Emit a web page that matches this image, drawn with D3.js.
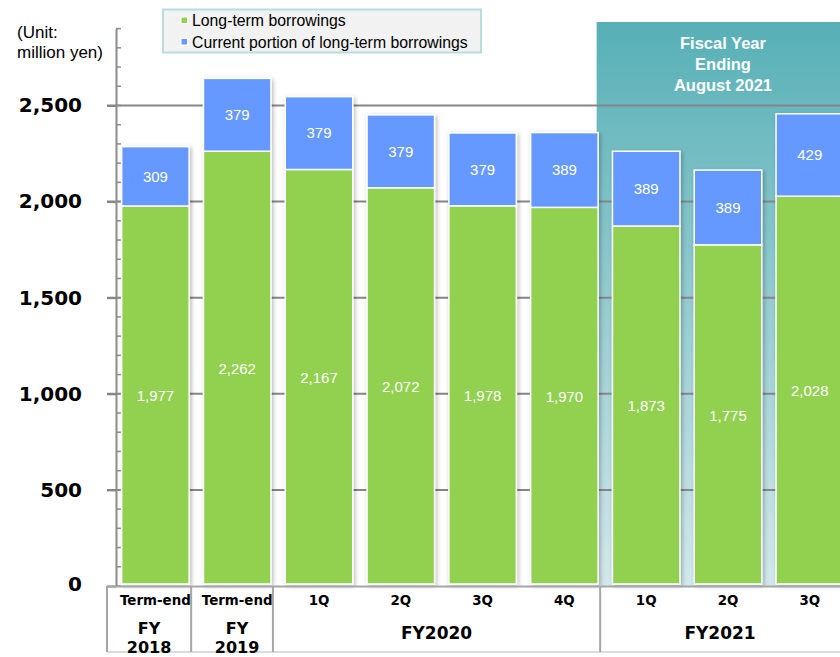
<!DOCTYPE html>
<html><head><meta charset="utf-8">
<script src="https://cdn.jsdelivr.net/npm/d3@7"></script>
<style>
html,body{margin:0;padding:0;background:#fff;overflow:hidden}
svg{display:block}
</style></head><body>
<svg id="c" width="840" height="657"></svg>
<script>
// ---- data ----
const periodLabels = ["Term-end","Term-end","1Q","2Q","3Q","4Q","1Q","2Q","3Q"];
const longTerm = [1977, 2262, 2167, 2072, 1978, 1970, 1873, 1775, 2028];
const currentPortion = [309, 379, 379, 379, 379, 389, 389, 389, 429];
const groupLabels = [["FY","2018"],["FY","2019"],["FY2020"],["FY2021"]];
const groupStart = [0, 1, 2, 6];
const groupEnd = [0, 1, 5, 8];
const yTicks = [0, 500, 1000, 1500, 2000, 2500];
const seriesNames = ["Long-term borrowings", "Current portion of long-term borrowings"];
const highlightLines = ["Fiscal Year", "Ending", "August 2021"];
const highlightFrom = 6;

const GREEN = "#92d050", BLUE = "#6699ff";
const svg = d3.select("#c");
const idx = d3.range(periodLabels.length);

const y = d3.scaleLinear().domain([0, 2900]).range([586, 28.6]);
const x = d3.scaleBand().domain(idx).range([114.5, 850.7]).paddingInner(0.175).paddingOuter(0.0875);
const bw = x.bandwidth();
const axisX = 116, leftX = 107, rightX = 840;

const defs = svg.append("defs");
const grad = defs.append("linearGradient").attr("id","teal").attr("x1",0).attr("y1",0).attr("x2",0).attr("y2",1);
grad.append("stop").attr("offset","0%").attr("stop-color","#56b0b6");
grad.append("stop").attr("offset","45%").attr("stop-color","#8fc9ce");
grad.append("stop").attr("offset","100%").attr("stop-color","#d3e8ec");
const f = defs.append("filter").attr("id","sh").attr("x","-20%").attr("y","-20%").attr("width","140%").attr("height","140%");
f.append("feDropShadow").attr("dx",1.5).attr("dy",1.5).attr("stdDeviation",2.2).attr("flood-color","#000").attr("flood-opacity",0.28);

// highlight region (starts right after the last bar before the highlighted fiscal year)
const hx = x(highlightFrom - 1) + bw - 1.5;
svg.append("rect").attr("x", hx).attr("y", 22).attr("width", rightX - hx).attr("height", y(0) - 22).attr("fill","url(#teal)");

// gridlines
svg.append("g").selectAll("line").data(yTicks.filter(d => d > 0)).join("line")
  .attr("x1", leftX).attr("x2", rightX).attr("y1", d => y(d)).attr("y2", d => y(d))
  .attr("stroke","#868686").attr("stroke-width",2);

// y axis
const yAxis = svg.append("g").attr("transform", `translate(${axisX},0)`)
  .call(d3.axisLeft(y).tickValues(yTicks).tickSize(9).tickSizeOuter(0).tickPadding(25).tickFormat(d3.format(",")));
yAxis.select(".domain").attr("stroke","#8c8c8c").attr("stroke-width",2);
yAxis.selectAll(".tick line").attr("stroke","#868686").attr("stroke-width",2);
yAxis.selectAll(".tick text").attr("font-family","DejaVu Sans").attr("font-weight","bold").attr("font-size",20).attr("fill","#000");
yAxis.selectAll(".tick").filter(d => d === 0).select("text").attr("dy","0.2em");
// minor ticks
svg.append("g").selectAll("line").data(d3.range(0, 2901, 100)).join("line")
  .attr("x1", axisX).attr("x2", axisX + 5).attr("y1", d => y(d)).attr("y2", d => y(d))
  .attr("stroke","#8c8c8c").attr("stroke-width",1.5);

// bars
const bars = svg.append("g");
idx.forEach(i => {
  const g = bars.append("g").attr("filter","url(#sh)");
  g.append("rect").attr("x", x(i)).attr("width", bw)
    .attr("y", y(longTerm[i])).attr("height", y(0) - y(longTerm[i]) - 2)
    .attr("fill", GREEN).attr("stroke","#fff").attr("stroke-width",1.5);
  g.append("rect").attr("x", x(i)).attr("width", bw)
    .attr("y", y(longTerm[i] + currentPortion[i])).attr("height", y(longTerm[i]) - y(longTerm[i] + currentPortion[i]))
    .attr("fill", BLUE).attr("stroke","#fff").attr("stroke-width",1.5);
});
const lab = svg.append("g").attr("font-family","Liberation Sans, Arial").attr("font-size",15).attr("fill","#fff").attr("text-anchor","middle");
idx.forEach(i => {
  lab.append("text").attr("x", x(i) + bw/2).attr("y", (y(0) + y(longTerm[i]))/2).attr("dy","0.35em").text(d3.format(",")(longTerm[i]));
  lab.append("text").attr("x", x(i) + bw/2).attr("y", (y(longTerm[i]) + y(longTerm[i] + currentPortion[i]))/2).attr("dy","0.35em").text(d3.format(",")(currentPortion[i]));
});

// highlight text
const ht = svg.append("g").attr("font-family","Liberation Sans, Arial").attr("font-weight","bold").attr("font-size",16.5).attr("fill","#fff").attr("text-anchor","middle");
highlightLines.forEach((t, k) => ht.append("text").attr("x", 723).attr("y", 43 + k * 21).attr("dy","0.35em").text(t));

// category table
const tbl = svg.append("g");
const bottomY = 652;
tbl.append("line").attr("x1", leftX).attr("x2", rightX).attr("y1", 586.5).attr("y2", 586.5).attr("stroke","#a6a6a6").attr("stroke-width",2);
tbl.append("line").attr("x1", leftX).attr("x2", rightX).attr("y1", bottomY).attr("y2", bottomY).attr("stroke","#d0d0d0").attr("stroke-width",1.5);
const cellEdge = i => x(i) + bw + 2;
const bounds = [leftX].concat(groupEnd.map(e => Math.min(cellEdge(e), rightX)));
bounds.slice(0, bounds.length - 1).forEach(b => {
  tbl.append("line").attr("x1", b).attr("x2", b).attr("y1", 586).attr("y2", bottomY).attr("stroke","#a6a6a6").attr("stroke-width",2);
});
const tt = svg.append("g").attr("font-family","DejaVu Sans").attr("font-weight","bold").attr("fill","#000").attr("text-anchor","middle");
idx.forEach(i => {
  tt.append("text").attr("x", x(i) + bw/2).attr("y", 600).attr("dy","0.35em").attr("font-size",13.4).text(periodLabels[i]);
});
groupLabels.forEach((lines, k) => {
  const cx = (bounds[k] + bounds[k+1]) / 2;
  if (lines.length === 1) {
    tt.append("text").attr("x", cx).attr("y", 633).attr("dy","0.35em").attr("font-size",17).text(lines[0]);
  } else {
    lines.forEach((t, j) => tt.append("text").attr("x", cx + k*5).attr("y", 628 + j*19).attr("dy","0.35em").attr("font-size",16).text(t));
  }
});

// unit label
const ul = svg.append("g").attr("font-family","Liberation Sans, Arial").attr("font-size",17).attr("fill","#000");
ul.append("text").attr("x", 17).attr("y", 38).text("(Unit:");
ul.append("text").attr("x", 17).attr("y", 58).text("million yen)");

// legend
const lg = svg.append("g");
lg.append("rect").attr("x", 163).attr("y", 9.5).attr("width", 318).attr("height", 43).attr("fill","#f2f2f2").attr("stroke","#b7dde0").attr("stroke-width",2);
[GREEN, BLUE].forEach((c, k) => {
  lg.append("rect").attr("x", 181).attr("y", 17 + k*21.5).attr("width", 6.5).attr("height", 6.5).attr("fill", c).attr("stroke","#fff").attr("stroke-width",1);
  lg.append("text").attr("x", 192).attr("y", 20.5 + k*21.5).attr("dy","0.35em").attr("font-family","Liberation Sans, Arial").attr("font-size",15.8).attr("fill","#000").text(seriesNames[k]);
});
</script>
</body></html>
